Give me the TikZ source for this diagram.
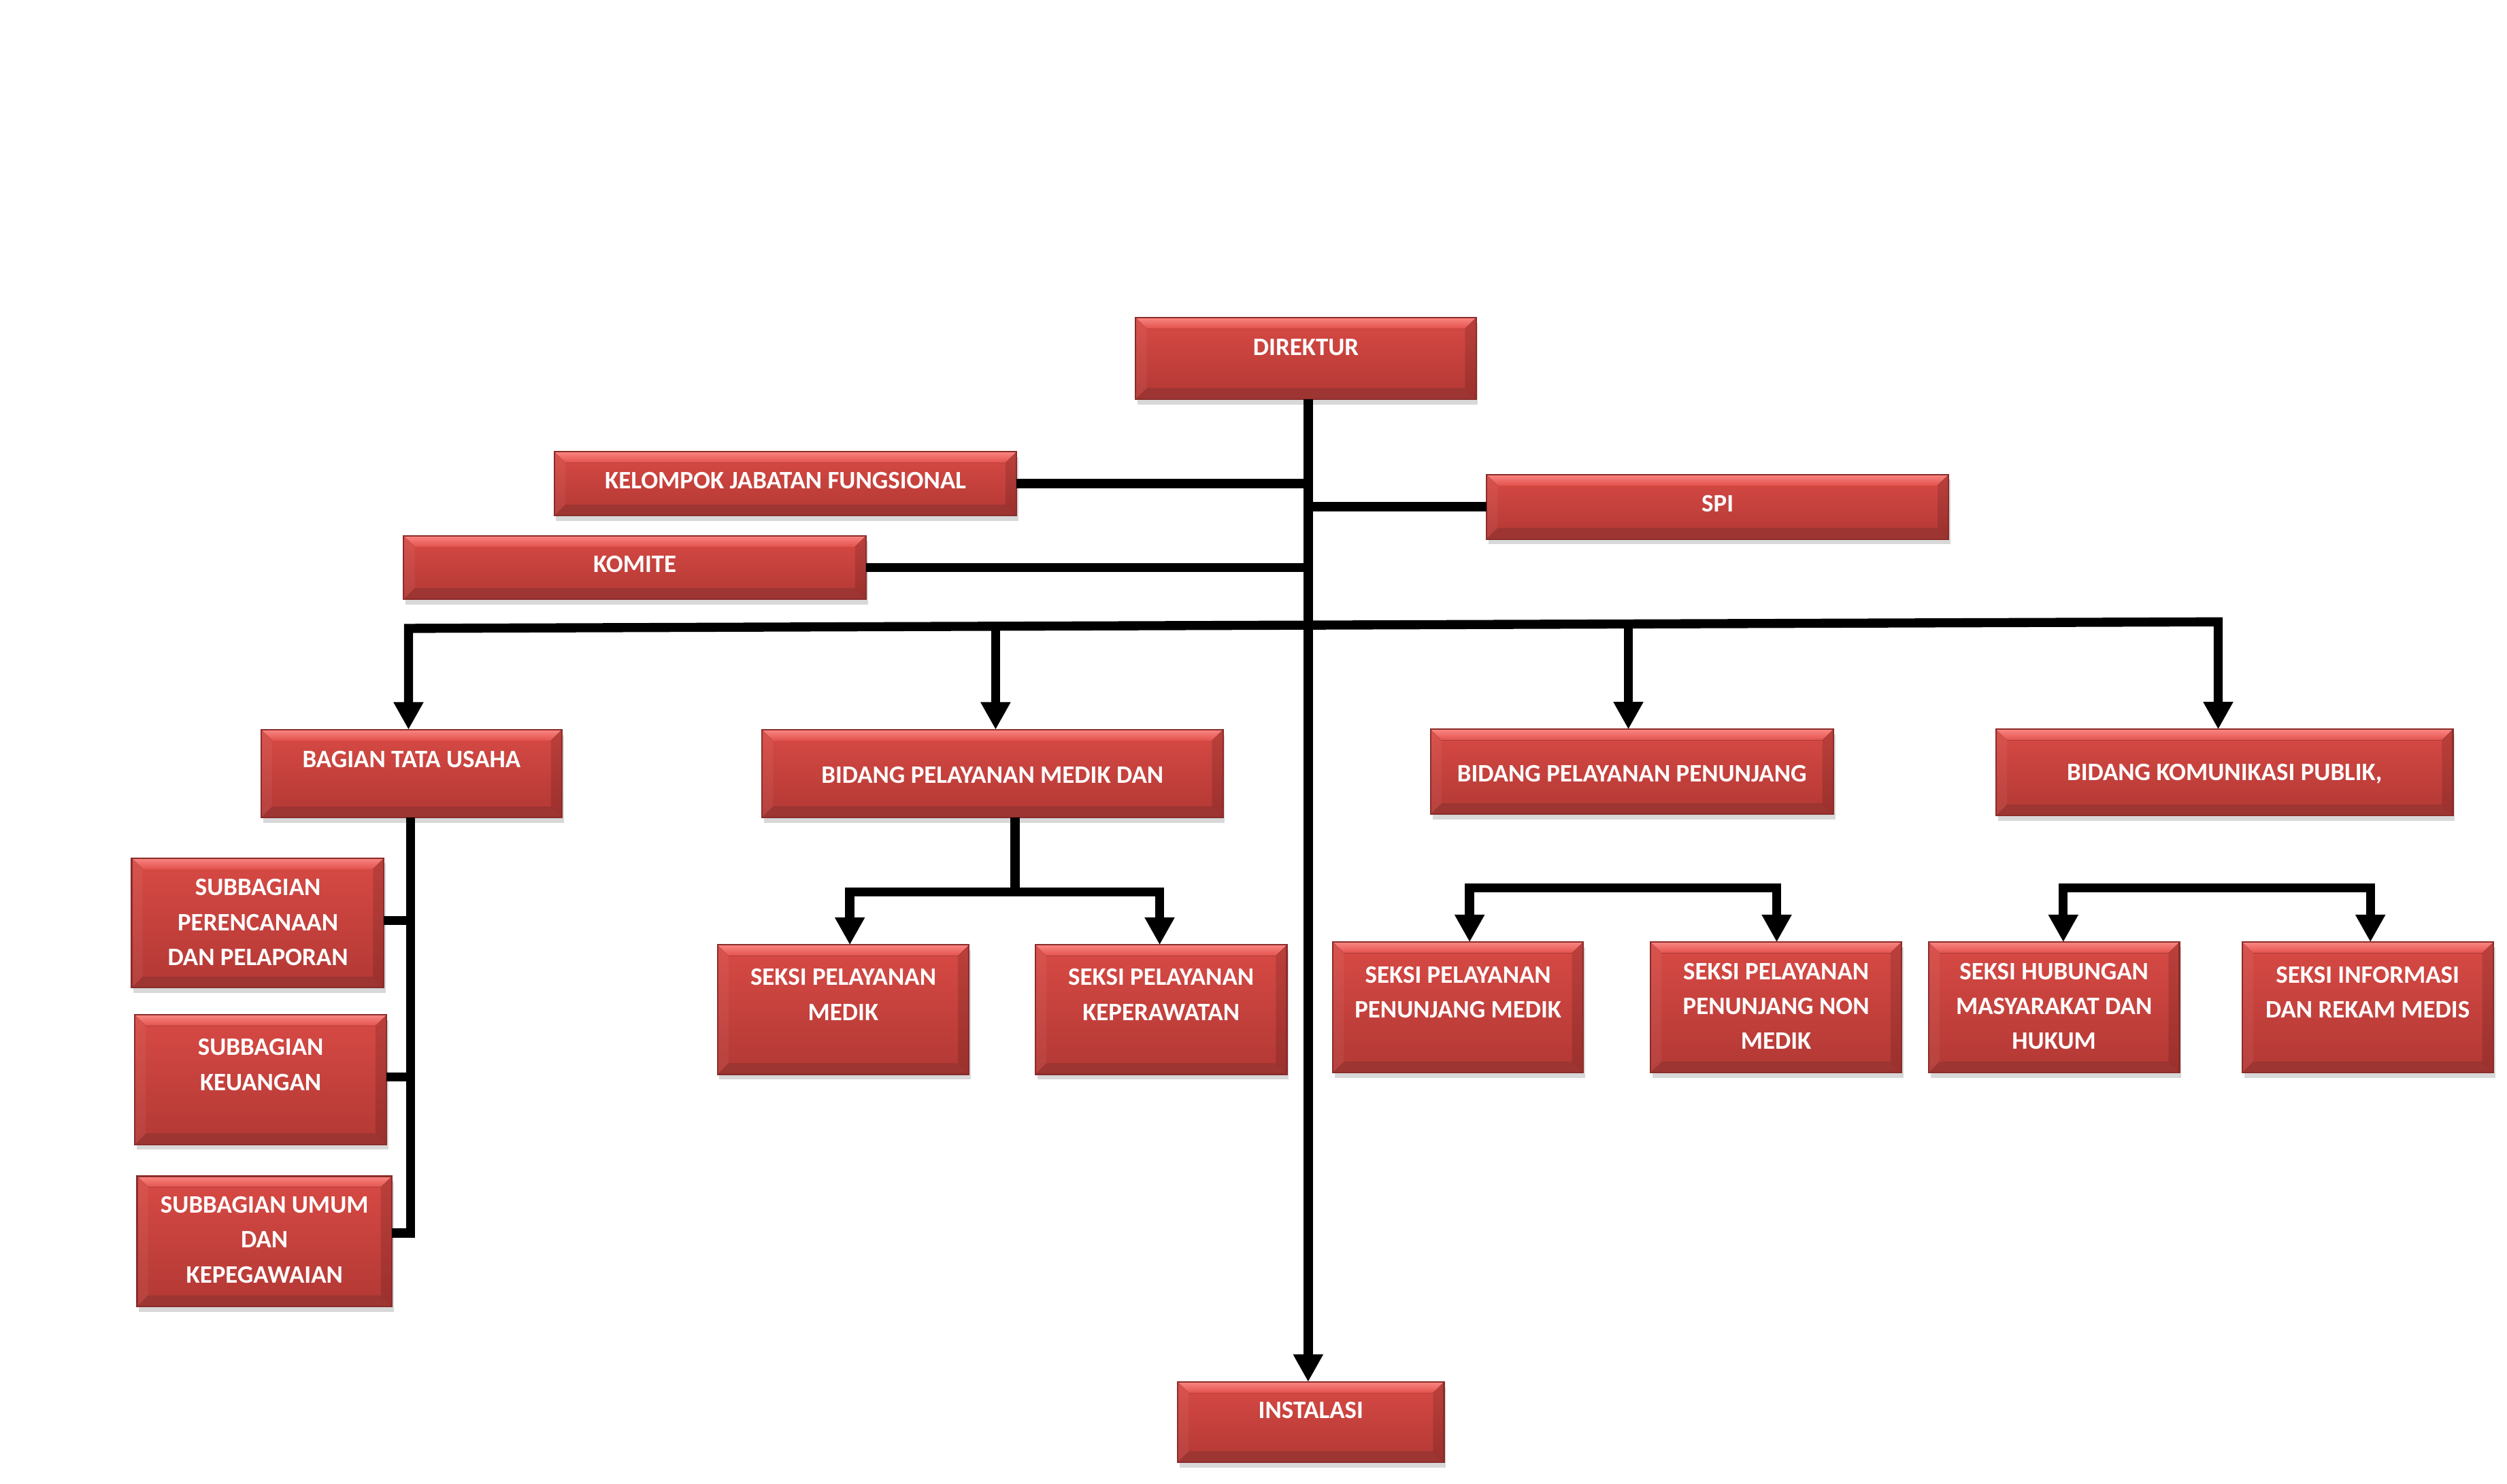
\documentclass[tikz,border=0pt]{standalone}
\usepackage{fontspec}
\setmainfont{Carlito}
\usetikzlibrary{arrows.meta,shadows,calc}
\definecolor{facetop}{HTML}{D84A45}
\definecolor{facebot}{HTML}{B23834}
\definecolor{bevtopA}{HTML}{FA8682}
\definecolor{bevtopB}{HTML}{E2524D}
\definecolor{bevbot}{HTML}{9D3532}
\definecolor{boxedge}{HTML}{8A2D2B}
\def\bev{4.6pt}
\tikzset{
  redbx/.style={rectangle, inner sep=0pt, outer sep=0pt, draw=boxedge, line width=0.6pt,
    top color=facetop, bottom color=facebot,
    drop shadow={opacity=0.3, shadow xshift=0.8pt, shadow yshift=-2.2pt},
    path picture={
      \coordinate (pnw) at (path picture bounding box.north west);
      \coordinate (pne) at (path picture bounding box.north east);
      \coordinate (psw) at (path picture bounding box.south west);
      \coordinate (pse) at (path picture bounding box.south east);
      \fill[top color=bevtopA, bottom color=bevtopB] (pnw) -- (pne) -- ([xshift=-\bev,yshift=-\bev]pne) -- ([xshift=\bev,yshift=-\bev]pnw) -- cycle;
      \fill[bevbot] (psw) -- (pse) -- ([xshift=-\bev,yshift=\bev]pse) -- ([xshift=\bev,yshift=\bev]psw) -- cycle;
      \fill[black,opacity=0.13] (pne) -- (pse) -- ([xshift=-\bev,yshift=\bev]pse) -- ([xshift=-\bev,yshift=-\bev]pne) -- cycle;
      \fill[white,opacity=0.05] (pnw) -- (psw) -- ([xshift=\bev,yshift=\bev]psw) -- ([xshift=\bev,yshift=-\bev]pnw) -- cycle;
    }},
  txt/.style={text=white, font=\fontsize{10.5}{14.6}\selectfont\bfseries, align=center, inner sep=0pt},
  conn/.style={line width=3.8pt, draw=black},
  arr/.style={-{Triangle[width=11.8pt,length=11.5pt]}},
  arrtwo/.style={{Triangle[width=11.8pt,length=11.5pt]}-{Triangle[width=11.8pt,length=11.5pt]}}
}
\newcommand\redbox[5]{\node[redbx, minimum width={(#4-#2)*0.66995pt}, minimum height={(#5-#3)*0.66995pt}] (#1) at ({(#2+#4)/2},{(#3+#5)/2}) {};}
\begin{document}
\begin{tikzpicture}[x=0.023546cm,y=-0.023546cm]
\useasboundingbox[fill=white] (0,0) rectangle (1565,926.3);
% connectors first (boxes drawn over)
\coordinate (tk) at (816.6,0);
\coordinate (bL) at (255,392.4);
\coordinate (bR) at (1384.7,388.3);
\coordinate (b2) at (621.5,391.07);
\coordinate (b3) at (1016.5,389.64);
\coordinate (v1) at (256.3,574.7);
\coordinate (v2) at (256.3,672.5);
\coordinate (v3) at (256.3,770);
\coordinate (m0) at (633.7,557);
\coordinate (mL) at (530.5,557);
\coordinate (mR) at (723.9,557);
\coordinate (pL) at (917.4,554.5);
\coordinate (pR) at (1109.1,554.5);
\coordinate (kL) at (1288,554.5);
\coordinate (kR) at (1479.7,554.5);
% boxes
\redbox{dir}{709}{198.3}{921.4}{249.2}
\redbox{kjf}{346}{282}{634.6}{322}
\redbox{spi}{927.9}{296.3}{1216.4}{336.6}
\redbox{kom}{252}{334.5}{540.6}{374.2}
\redbox{btu}{163}{455.6}{350.8}{510.5}
\redbox{bpm}{475.7}{455.6}{763.4}{510.4}
\redbox{bpp}{893}{455.4}{1144.4}{508.5}
\redbox{bkp}{1246}{455.4}{1531.2}{509.3}
\redbox{sba}{82.2}{535.8}{239.7}{616.7}
\redbox{sbb}{84.2}{633.8}{241.2}{714.6}
\redbox{sbc}{85.6}{734.5}{244.6}{815.8}
\redbox{sa}{447.9}{590}{604.9}{670.8}
\redbox{sb}{646.3}{590}{803.3}{670.8}
\redbox{sc}{832.1}{588.3}{988.2}{669.8}
\redbox{sd}{1030.3}{588.3}{1187}{669.8}
\redbox{se}{1203.9}{588.3}{1360.5}{669.8}
\redbox{sf}{1399.7}{588.3}{1556.4}{669.8}
\redbox{ins}{735.2}{862.9}{901.4}{913.1}
% texts
\node[txt] (dir-t) at (815.2,216.7) {DIREKTUR};
\node[txt] (kjf-t) at (490.3,300) {KELOMPOK JABATAN FUNGSIONAL};
\node[txt] (spi-t) at (1072.2,314.5) {SPI};
\node[txt] (kom-t) at (396.3,352.5) {KOMITE};
\node[txt] (btu-t) at (256.9,474) {BAGIAN TATA USAHA};
\node[txt] (bpm-t) at (619.5,484) {BIDANG PELAYANAN MEDIK DAN};
\node[txt] (bpp-t) at (1018.7,483) {BIDANG PELAYANAN PENUNJANG};
\node[txt] (bkp-t) at (1388.6,483.3) {BIDANG KOMUNIKASI PUBLIK,};
\node[txt] (sba-t) at (161,575.9) {SUBBAGIAN\\PERENCANAAN\\DAN PELAPORAN};
\node[txt] (sbb-t) at (162.7,664.8) {SUBBAGIAN\\KEUANGAN};
\node[txt] (sbc-t) at (165.1,774.2) {SUBBAGIAN UMUM\\DAN\\KEPEGAWAIAN};
\node[txt] (sa-t) at (526.4,621) {SEKSI PELAYANAN\\MEDIK};
\node[txt] (sb-t) at (724.8,621) {SEKSI PELAYANAN\\KEPERAWATAN};
\node[txt] (sc-t) at (910.2,619.5) {SEKSI PELAYANAN\\PENUNJANG MEDIK};
\node[txt] (sd-t) at (1108.7,628.3) {SEKSI PELAYANAN\\PENUNJANG NON\\MEDIK};
\node[txt] (se-t) at (1282.2,628.3) {SEKSI HUBUNGAN\\MASYARAKAT DAN\\HUKUM};
\node[txt] (sf-t) at (1478,619.5) {SEKSI INFORMASI\\DAN REKAM MEDIS};
\node[txt] (ins-t) at (818.3,880.8) {INSTALASI};
% connectors
\draw[conn,arr] (dir.south -| tk) -- (ins.north -| tk);
\draw[conn] (kjf.east) -- (kjf.east -| tk);
\draw[conn] (spi.west) -- (spi.west -| tk);
\draw[conn] (kom.east) -- (kom.east -| tk);
\draw[conn,arrtwo] (btu.north -| bL) -- (bL) -- (bR) -- (bkp.north -| bR);
\draw[conn,arr] (b2) -- (bpm.north -| b2);
\draw[conn,arr] (b3) -- (bpp.north -| b3);
\draw[conn] (btu.south -| v1) -- (v3) -- (v3 -| sbc.east);
\draw[conn] (v1) -- (v1 -| sba.east);
\draw[conn] (v2) -- (v2 -| sbb.east);
\draw[conn] (bpm.south -| m0) -- (m0);
\draw[conn,arrtwo] (sa.north -| mL) -- (mL) -- (mR) -- (sb.north -| mR);
\draw[conn,arrtwo] (sc.north -| pL) -- (pL) -- (pR) -- (sd.north -| pR);
\draw[conn,arrtwo] (se.north -| kL) -- (kL) -- (kR) -- (sf.north -| kR);
\end{tikzpicture}
\end{document}
